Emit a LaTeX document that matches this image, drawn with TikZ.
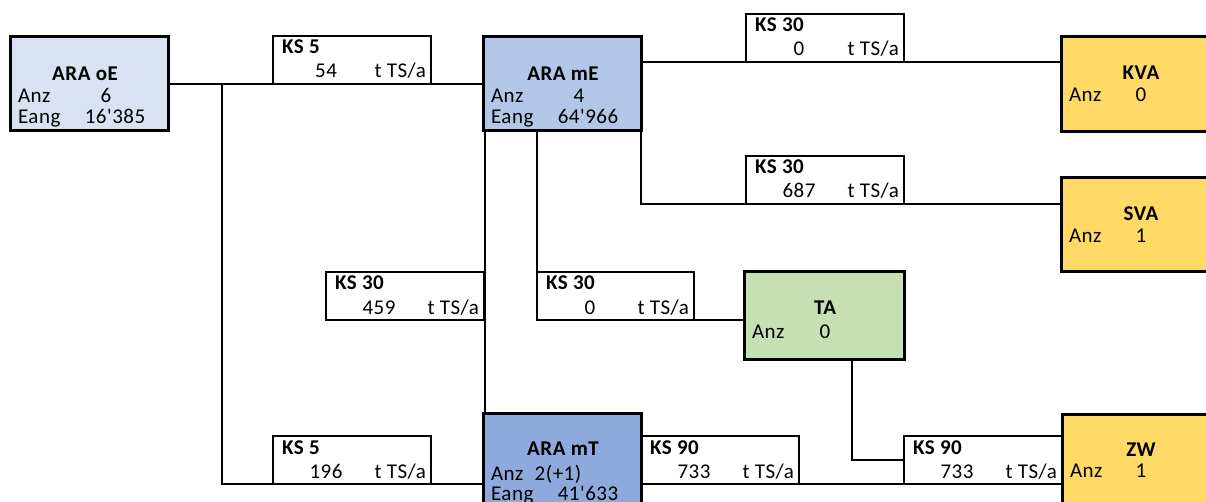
\documentclass[tikz,border=0pt]{standalone}
\usepackage{fontspec}
\setmainfont{Carlito}[LetterSpace=2.5, Ligatures=TeXOff]
\usetikzlibrary{calc}
\definecolor{oeC}{HTML}{D9E1F2}
\definecolor{meC}{HTML}{B4C6E7}
\definecolor{mtC}{HTML}{8EA9DB}
\definecolor{goldC}{HTML}{FFD966}
\definecolor{taC}{HTML}{C6E0B4}
\tikzset{
  mainbox/.style={draw, line width=3pt, inner sep=0pt, outer sep=0pt, anchor=north west, minimum width=158pt},
  ksbox/.style={draw, line width=1.7pt, fill=white, inner sep=0pt, outer sep=0pt, minimum width=158pt, minimum height=48pt},
  conn/.style={line width=2pt},
  kt/.style={inner sep=0pt, outer sep=0pt},
}
\newcommand\KSlab[3]{%
  \node[kt, anchor=base west] (#1a) at ($(#1.north west)+(9,18)$) {\bfseries #2};
  \node[kt, anchor=base] (#1b) at ($(#1.north west)+(53,42)$) {#3};
  \node[kt, anchor=base east] (#1c) at ($(#1.north east)+(-5,42)$) {t TS/a};}
\newcommand\MBtitle[3]{%
  \node[kt, anchor=base] (#1a) at ($(#1.north west)+(#2)$) {\bfseries #3};}
\newcommand\MBrow[5]{%
  \node[kt, anchor=base west] (#1#2l) at ($(#1.north west)+(8,#3)$) {#4};}
\newcommand\MBval[5]{%
  \node[kt, anchor=base] (#1#2v) at ($(#1.north west)+(#3,#4)$) {#5};}
\begin{document}
\begin{tikzpicture}[x=1pt, y=-1pt, font=\fontsize{21}{22}\selectfont]
\path[use as bounding box] (0,0) rectangle (1206,502);
\clip (0,0) rectangle (1206,502);

% main boxes
\node[mainbox, fill=oeC, minimum height=94pt] (oe) at (10,37) {};
\node[mainbox, fill=meC, minimum height=94pt] (me) at (483,37) {};
\node[mainbox, fill=goldC, minimum width=170pt, minimum height=95pt] (kva) at (1061,37) {};
\node[mainbox, fill=goldC, minimum width=170pt, minimum height=94pt] (sva) at (1061,178) {};
\node[mainbox, fill=taC, minimum width=160pt, minimum height=87pt] (ta) at (744,272) {};
\node[mainbox, fill=mtC, minimum height=142pt] (mt) at (483,413) {};
\node[mainbox, fill=goldC, minimum width=170pt, minimum height=140pt] (zw) at (1062,414) {};

% connection points
\coordinate (j1) at ($(oe.east)+(54,0)$);
\coordinate (p3) at ($(me.north east)+(0,25)$);
\coordinate (p4) at ($(sva.north west)+(0,26)$);
\coordinate (p6) at ($(me.south west)+(54,0)$);
\coordinate (q6) at ($(ta.north west)+(0,48)$);
\coordinate (p8) at ($(ta.south west)+(108,0)$);

% label boxes
\node[ksbox, anchor=south west] (k1) at ($(oe.east)+(105,0)$) {};
\node[ksbox, anchor=south west] (k2) at ($(p3)+(105,0)$) {};
\node[ksbox, anchor=south west] (k3) at ($(me.south east |- p4)+(105,0)$) {};
\node[ksbox, anchor=south east, minimum width=158pt] (k4) at ($(me.south west |- q6)+(1,0)$) {};
\node[ksbox, anchor=south west, minimum width=157pt] (k5) at (p6 |- q6) {};
\node[ksbox, anchor=south west] (k6) at ($(j1 |- mt.west)+(51,0)$) {};
\node[ksbox, anchor=south west] (k7) at (mt.east) {};
\node[ksbox, anchor=south east] (k8) at (zw.west) {};

% connectors
\draw[conn] (oe.east) -- (me.west);
\draw[conn] (j1) |- (mt.west);
\draw[conn] (p3) -- (p3 -| kva.west);
\draw[conn] (me.south east) |- (p4);
\draw[conn] ([xshift=1.5pt]me.south west) -- ([xshift=1.5pt]mt.north west);
\draw[conn] (p6) |- (q6);
\draw[conn] (mt.east) -- (zw.west);
\draw[conn] (p8) |- (k8.west);

% redraw main box borders on top
\foreach \b in {oe,me,kva,sva,ta,mt,zw}{\draw[line width=3pt] (\b.north west) rectangle (\b.south east);}

% label texts
\KSlab{k1}{KS 5}{54}
\KSlab{k2}{KS 30}{0}
\KSlab{k3}{KS 30}{687}
\KSlab{k4}{KS 30}{459}
\KSlab{k5}{KS 30}{0}
\KSlab{k6}{KS 5}{196}
\KSlab{k7}{KS 90}{733}
\KSlab{k8}{KS 90}{733}

% main box texts
\MBtitle{oe}{75,44}{ARA oE}
\MBrow{oe}{1}{66}{Anz}{}
\MBval{oe}{1}{96}{66}{6}
\MBrow{oe}{2}{87}{Eang}{}
\MBval{oe}{2}{105}{87}{16'385}

\MBtitle{me}{80,44}{ARA mE}
\MBrow{me}{1}{66}{Anz}{}
\MBval{me}{1}{96}{66}{4}
\MBrow{me}{2}{87}{Eang}{}
\MBval{me}{2}{105}{87}{64'966}

\MBtitle{kva}{80,43}{KVA}
\MBrow{kva}{1}{65}{Anz}{}
\MBval{kva}{1}{80}{65}{0}

\MBtitle{sva}{80,43}{SVA}
\MBrow{sva}{1}{65}{Anz}{}
\MBval{sva}{1}{80}{65}{1}

\MBtitle{ta}{81,42}{TA}
\MBrow{ta}{1}{66}{Anz}{}
\MBval{ta}{1}{81}{66}{0}

\MBtitle{mt}{80,42}{ARA mT}
\MBrow{mt}{1}{67}{Anz}{}
\MBval{mt}{1}{75}{67}{2(+1)}
\MBrow{mt}{2}{87}{Eang}{}
\MBval{mt}{2}{105}{87}{41'633}

\MBtitle{zw}{79,42}{ZW}
\MBrow{zw}{1}{63}{Anz}{}
\MBval{zw}{1}{79}{63}{1}
\end{tikzpicture}
\end{document}
